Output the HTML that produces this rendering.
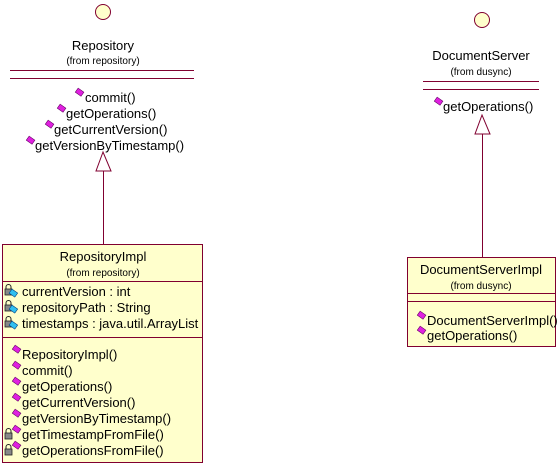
<!DOCTYPE html>
<html><head><meta charset="utf-8"><style>
html,body{margin:0;padding:0;background:#fff;}
svg{display:block;}
text{font-family:"Liberation Sans",Arial,sans-serif;fill:#000;}
.n{font-size:13px;}
.f{font-size:10px;}
.m{font-size:13px;}
</style></head><body>
<svg width="559" height="465" viewBox="0 0 559 465" xmlns="http://www.w3.org/2000/svg">
<defs>
<g id="pub"><rect x="-3.5" y="-3.5" width="7" height="5" transform="rotate(35)" fill="#e020e0" stroke="#600060" stroke-width="0.6"/></g>
<g id="priv"><rect x="-5" y="-3" width="7" height="6" fill="#888" stroke="#222" stroke-width="0.8"/><path d="M-4 -3 v-2 a2.5 2.5 0 0 1 5 0 v2" fill="none" stroke="#222" stroke-width="1"/></g>
<g id="attr"><rect x="-2" y="-1" width="7" height="5" transform="rotate(35)" fill="#30c0f0" stroke="#004080" stroke-width="0.6"/></g>
</defs>

<circle cx="103" cy="12" r="7.5" fill="#ffffcc" stroke="#800030" stroke-width="1"/>
<text class="n" x="103" y="50" text-anchor="middle">Repository</text>
<text class="f" x="103" y="64" text-anchor="middle">(from repository)</text>
<line x1="10" y1="70.5" x2="194" y2="70.5" stroke="#800030"/>
<line x1="10" y1="78.5" x2="194" y2="78.5" stroke="#800030"/>
<use href="#pub" x="79" y="93"/><text class="m" x="85" y="102">commit()</text>
<use href="#pub" x="61" y="109"/><text class="m" x="66" y="118">getOperations()</text>
<use href="#pub" x="49" y="125"/><text class="m" x="54" y="134">getCurrentVersion()</text>
<use href="#pub" x="30" y="141"/><text class="m" x="35" y="150">getVersionByTimestamp()</text>

<polygon points="103,152 96,171 111,171" fill="#fff" stroke="#800030"/>
<line x1="103.5" y1="171" x2="103.5" y2="244" stroke="#800030"/>

<rect x="2.5" y="244.5" width="200" height="218" fill="#ffffcc" stroke="#800030"/>
<text class="n" x="103" y="261" text-anchor="middle">RepositoryImpl</text>
<text class="f" x="103" y="276" text-anchor="middle">(from repository)</text>
<line x1="2.5" y1="281.5" x2="202.5" y2="281.5" stroke="#800030"/>
<use href="#priv" x="10" y="292"/><use href="#attr" x="13" y="291"/><text class="m" x="22" y="296">currentVersion : int</text>
<use href="#priv" x="10" y="308"/><use href="#attr" x="13" y="307"/><text class="m" x="22" y="312">repositoryPath : String</text>
<use href="#priv" x="10" y="324"/><use href="#attr" x="13" y="323"/><text class="m" x="22" y="328">timestamps : java.util.ArrayList</text>
<line x1="2.5" y1="337.5" x2="202.5" y2="337.5" stroke="#800030"/>
<use href="#pub" x="16" y="350"/><text class="m" x="22" y="359">RepositoryImpl()</text>
<use href="#pub" x="16" y="366"/><text class="m" x="22" y="375">commit()</text>
<use href="#pub" x="16" y="382"/><text class="m" x="22" y="391">getOperations()</text>
<use href="#pub" x="16" y="398"/><text class="m" x="22" y="407">getCurrentVersion()</text>
<use href="#pub" x="16" y="414"/><text class="m" x="22" y="423">getVersionByTimestamp()</text>
<use href="#priv" x="10" y="436"/><use href="#pub" x="16" y="430"/><text class="m" x="22" y="439">getTimestampFromFile()</text>
<use href="#priv" x="10" y="452"/><use href="#pub" x="16" y="446"/><text class="m" x="22" y="455">getOperationsFromFile()</text>

<circle cx="482" cy="20" r="7.5" fill="#ffffcc" stroke="#800030" stroke-width="1"/>
<text class="n" x="481" y="60" text-anchor="middle">DocumentServer</text>
<text class="f" x="481" y="75" text-anchor="middle">(from dusync)</text>
<line x1="423" y1="81.5" x2="539" y2="81.5" stroke="#800030"/>
<line x1="423" y1="89.5" x2="539" y2="89.5" stroke="#800030"/>
<use href="#pub" x="438" y="102"/><text class="m" x="443" y="111">getOperations()</text>

<polygon points="482,115 475,134 490,134" fill="#fff" stroke="#800030"/>
<line x1="482.5" y1="134" x2="482.5" y2="257" stroke="#800030"/>

<rect x="407.5" y="257.5" width="148" height="89" fill="#ffffcc" stroke="#800030"/>
<text class="n" x="481" y="274" text-anchor="middle">DocumentServerImpl</text>
<text class="f" x="481" y="289" text-anchor="middle">(from dusync)</text>
<line x1="407.5" y1="293.5" x2="555.5" y2="293.5" stroke="#800030"/>
<line x1="407.5" y1="301.5" x2="555.5" y2="301.5" stroke="#800030"/>
<use href="#pub" x="421" y="316"/><text class="m" x="427" y="325">DocumentServerImpl()</text>
<use href="#pub" x="421" y="331"/><text class="m" x="427" y="340">getOperations()</text>
</svg>
</body></html>
